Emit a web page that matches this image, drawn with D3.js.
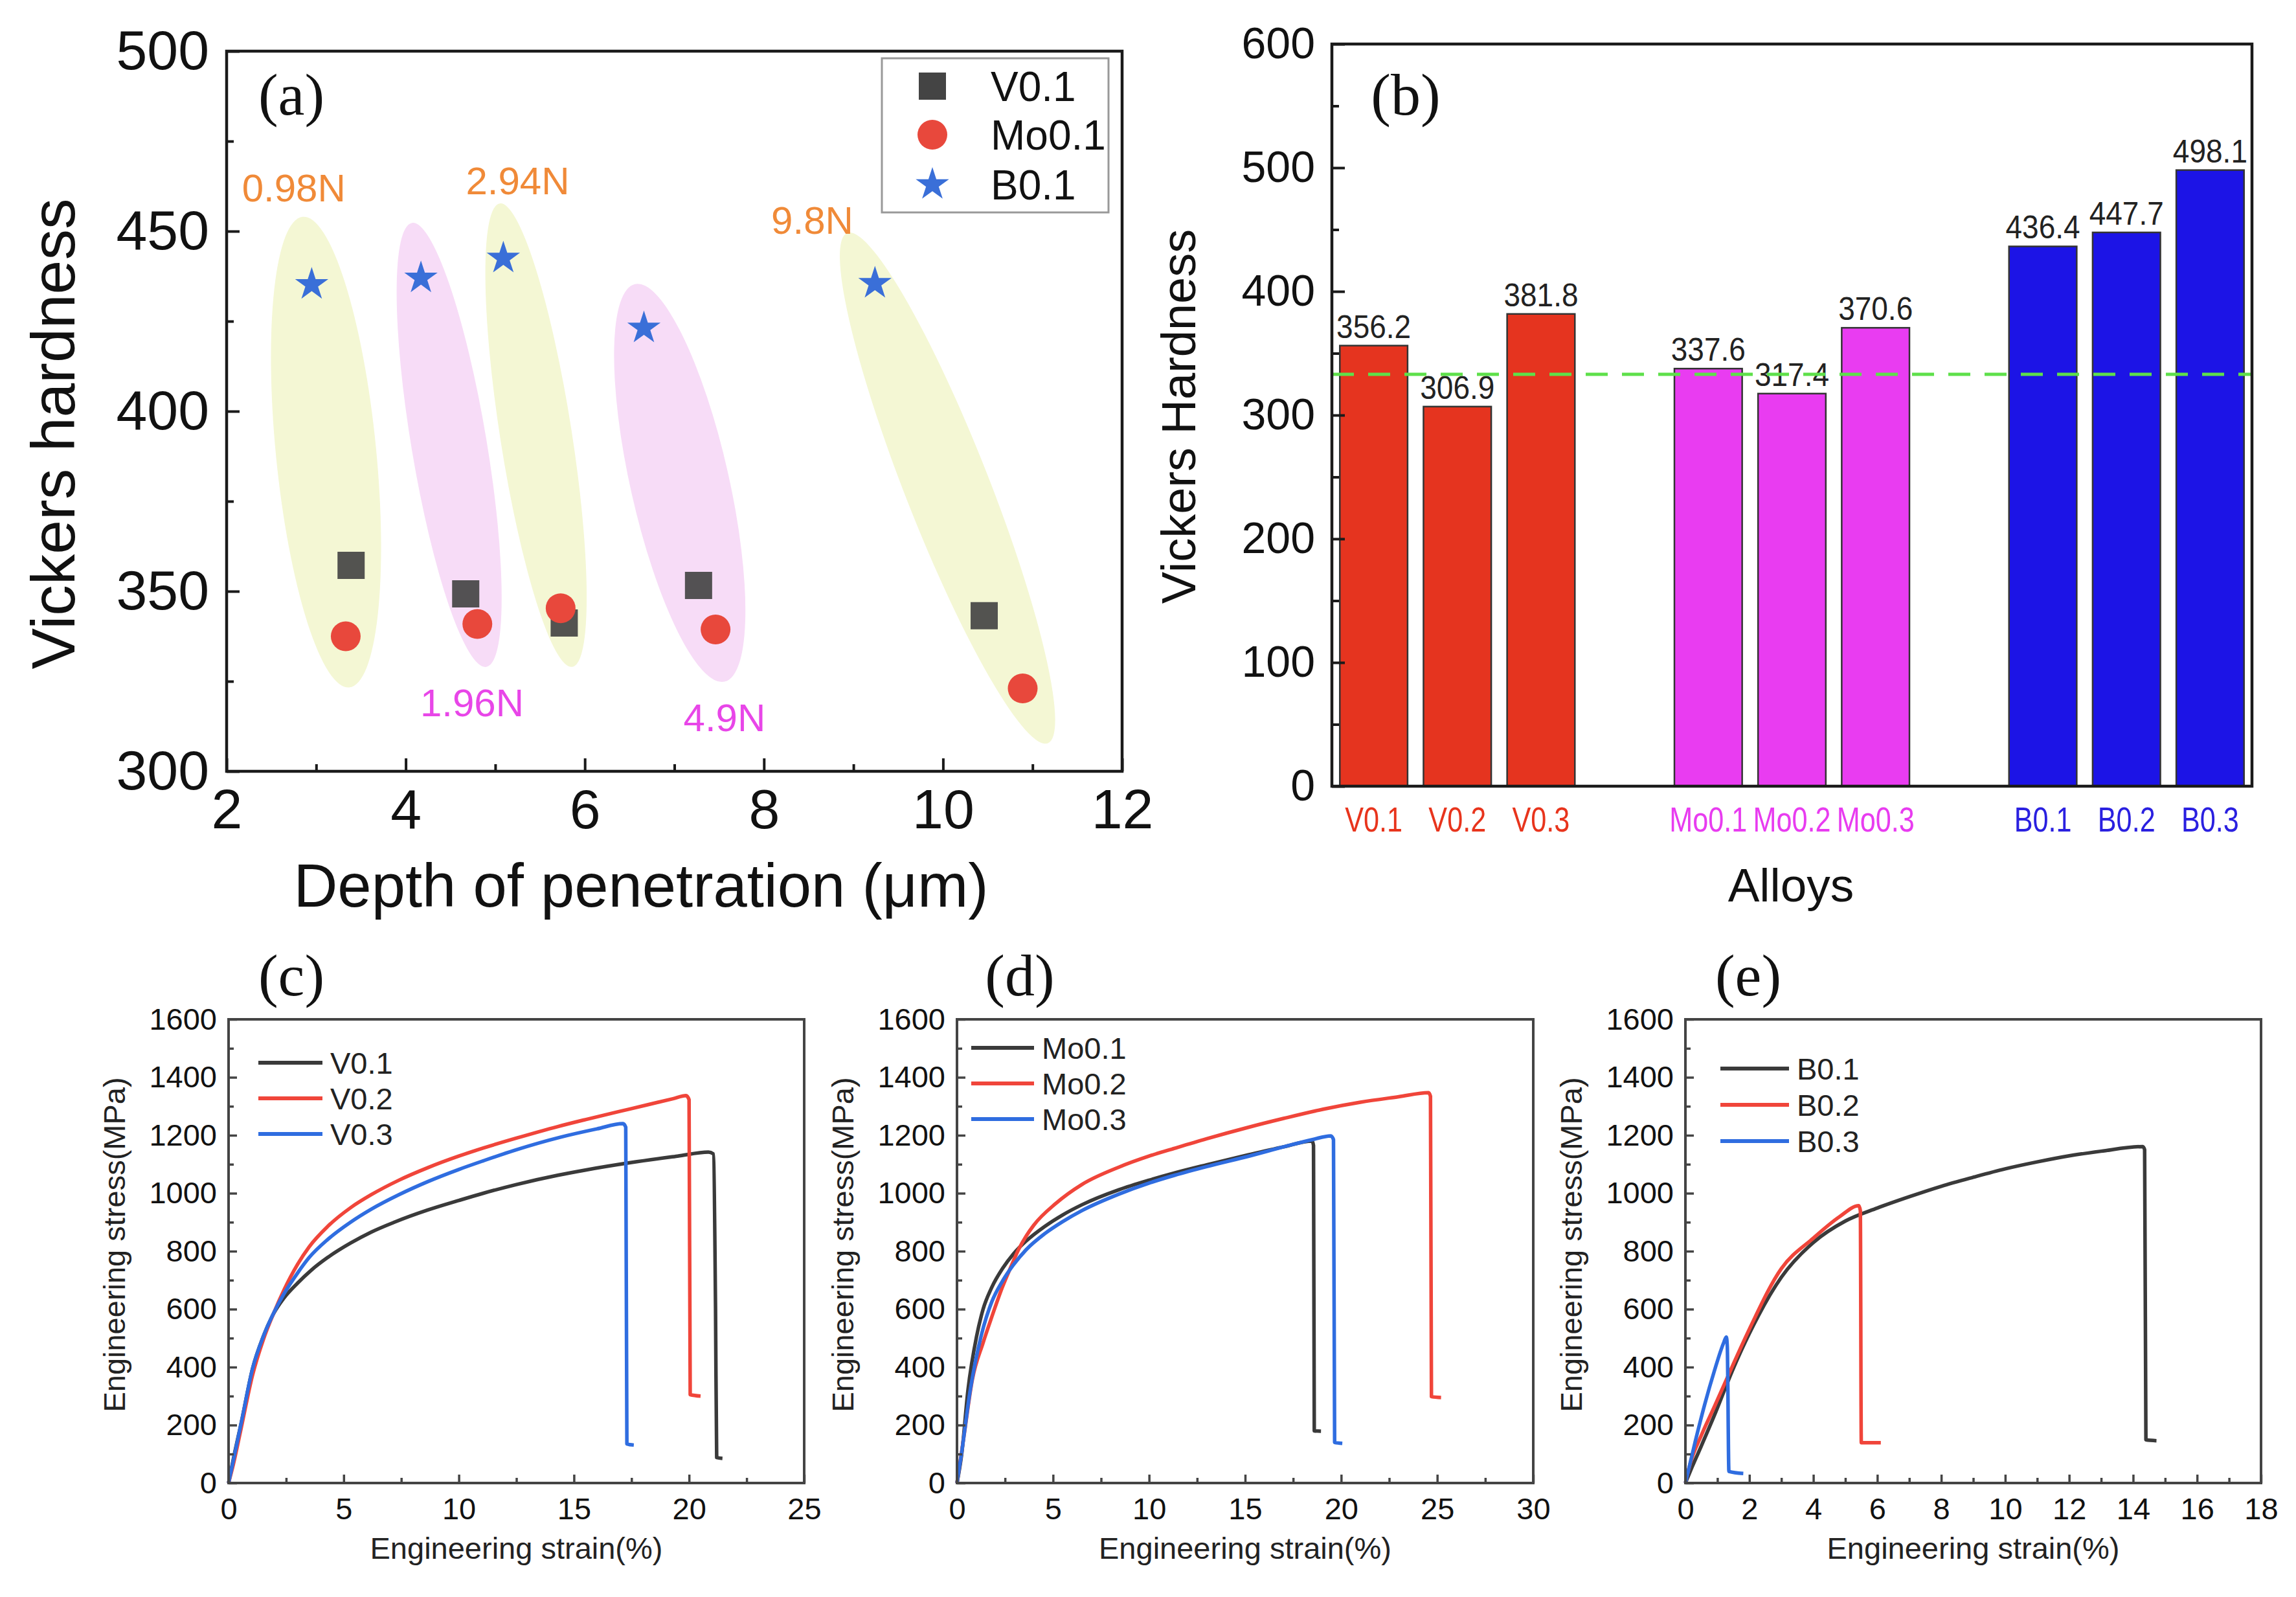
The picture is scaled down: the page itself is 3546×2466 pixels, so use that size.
<!DOCTYPE html>
<html>
<head>
<meta charset="utf-8">
<script src="https://cdn.jsdelivr.net/npm/d3@7"></script>
<style>
  body { margin: 0; background: #fff; }
  text { font-family: "Liberation Sans", Arial, sans-serif; }
</style>
</head>
<body>
<svg id="fig"></svg>
<script>
// ---------- panel (a): hardness vs depth of penetration ----------
const loadLabels = ["0.98N", "1.96N", "2.94N", "4.9N", "9.8N"];
const depthV  = [3.39, 4.67, 5.77, 7.27, 10.46];
const hardV   = [357.2, 349.3, 341.2, 351.6, 343.2];
const depthMo = [3.33, 4.80, 5.73, 7.46, 10.89];
const hardMo  = [337.5, 340.9, 345.3, 339.4, 323.0];
const depthB  = [2.95, 4.17, 5.09, 6.66, 9.24];
const hardB   = [435.2, 437.0, 442.5, 423.1, 435.5];
// group ellipses: ends of the long axis and half width (depth units)
const ellipseTop    = [[2.85, 454.0], [4.07, 452.3], [5.05, 457.7], [6.56, 435.3], [8.93, 449.5]];
const ellipseBottom = [[3.37, 323.3], [4.90, 329.0], [5.86, 329.0], [7.56, 324.9], [11.17, 307.8]];
const ellipseHalf   = [0.56, 0.42, 0.40, 0.55, 0.47];
const loadLabelAt   = [[2.75, 462], [4.74, 319], [5.25, 464], [7.56, 315], [8.54, 453]];

// ---------- panel (b): hardness per alloy ----------
const alloys   = ["V0.1", "V0.2", "V0.3", "Mo0.1", "Mo0.2", "Mo0.3", "B0.1", "B0.2", "B0.3"];
const alloyGrp = ["V", "V", "V", "Mo", "Mo", "Mo", "B", "B", "B"];
const hardness = [356.2, 306.9, 381.8, 337.6, 317.4, 370.6, 436.4, 447.7, 498.1];
const refHardness = 333;

// ---------- panels (c)-(e): engineering stress-strain ----------
const curvesV = {
  "V0.1": [[0,0],[0.2,80],[0.57,215],[1.04,394],[1.51,506],[1.98,588],[2.4,638],[3.0,690],[3.6,735],[4.3,778],[5.3,828],[6.2,866],[7.2,900],[8.65,942],[10,975],[11.07,1000],[12.5,1030],[14.3,1062],[15.5,1080],[17.5,1106],[19.5,1128],[20.84,1142],[21.05,1136],[21.15,600],[21.2,88],[21.45,85]],
  "V0.2": [[0,0],[0.2,62],[0.52,179],[1.04,372],[1.51,495],[1.98,590],[2.4,665],[3.0,755],[3.5,815],[4.3,885],[5.3,950],[6.2,995],[7.4,1045],[8.65,1088],[10,1128],[11.07,1156],[12.5,1190],[14.3,1230],[15.5,1254],[17.5,1292],[19.3,1326],[19.87,1337],[20.0,1323],[20.05,305],[20.5,300]],
  "V0.3": [[0,0],[0.2,75],[0.57,215],[1.04,394],[1.51,506],[1.98,590],[2.4,652],[3.0,725],[3.5,778],[4.3,840],[5.3,900],[6.2,945],[7.4,995],[8.65,1040],[10,1082],[11.07,1112],[12.5,1150],[14.4,1193],[16,1222],[17.13,1240],[17.25,1228],[17.3,135],[17.6,131]]
};
const curvesMo = {
  "Mo0.1": [[0,0],[0.24,97],[0.57,320],[1.02,506],[1.36,600],[1.81,675],[2.37,740],[2.93,790],[3.6,835],[4.56,885],[5.5,925],[6.5,960],[8.43,1012],[10,1045],[11.33,1070],[13,1098],[15.2,1133],[17,1160],[18.49,1180],[18.56,1165],[18.6,180],[18.95,179]],
  "Mo0.2": [[0,0],[0.35,156],[0.8,357],[1.36,484],[1.81,573],[2.37,677],[2.8,745],[3.2,805],[3.6,852],[4.0,890],[5.15,965],[6.5,1030],[8.43,1090],[10,1128],[11.33,1155],[13,1188],[15.2,1228],[17,1258],[19.07,1290],[21,1314],[23,1333],[24.55,1347],[24.65,1334],[24.7,298],[25.2,295]],
  "Mo0.3": [[0,0],[0.24,104],[0.69,320],[1.25,506],[1.81,625],[2.37,697],[2.93,752],[3.6,805],[4.56,860],[5.5,902],[6.5,940],[8.43,997],[10,1035],[11.33,1062],[13,1092],[15.2,1128],[17,1160],[18.5,1185],[19.46,1198],[19.6,1185],[19.66,140],[20.06,137]]
};
const curvesB = {
  "B0.1": [[0,0],[0.15,40],[0.45,116],[0.9,232],[1.5,396],[2.0,516],[3.0,710],[4.0,830],[5.0,904],[6.0,949],[7,988],[8.0,1024],[9,1055],[10.0,1084],[11,1108],[12.0,1129],[13,1145],[14.3,1161],[14.36,1150],[14.4,149],[14.73,146]],
  "B0.2": [[0,0],[0.15,67],[0.5,165],[0.9,262],[1.5,411],[2.0,531],[3.0,740],[4.0,845],[4.82,919],[5.42,957],[5.47,940],[5.5,139],[6.11,139]],
  "B0.3": [[0,0],[0.3,140],[0.6,270],[0.9,385],[1.2,485],[1.28,504],[1.31,470],[1.36,40],[1.81,33]]
};

const W = 3546, H = 2466;
const svg = d3.select("#fig").attr("width", W).attr("height", H);
svg.append("rect").attr("width", W).attr("height", H).attr("fill", "#fff");

const serif = '"Liberation Serif", "Times New Roman", serif';
const lineColors = ["#3a3a3a", "#f0453a", "#2f6de0"];

function addAxis(g, scale, orient, pos, major, minor, fmt, o) {
    const mk = orient === "bottom" ? d3.axisBottom : d3.axisLeft;
    const tr = orient === "bottom" ? `translate(0,${pos})` : `translate(${pos},0)`;
    if (minor) {
        const m = g.append("g").attr("transform", tr)
            .call(mk(scale).tickValues(minor).tickSize(-o.minorLen).tickFormat(""));
        m.select(".domain").remove();
        m.selectAll("line").attr("stroke", o.color).attr("stroke-width", o.tickW);
    }
    const ax = g.append("g").attr("transform", tr)
        .call(mk(scale).tickValues(major).tickSize(-o.majorLen).tickPadding(o.pad).tickFormat(fmt));
    ax.select(".domain").remove();
    ax.selectAll("line").attr("stroke", o.color).attr("stroke-width", o.tickW);
    ax.selectAll("text")
        .style("font-family", '"Liberation Sans", Arial, sans-serif')
        .style("font-size", o.font + "px")
        .attr("fill", "#111");
    return ax;
}

function frame(g, L, T, R, B, sw, col) {
    g.append("rect").attr("x", L).attr("y", T).attr("width", R - L).attr("height", B - T)
        .attr("fill", "none").attr("stroke", col).attr("stroke-width", sw);
}

function panelLabel(txt, x, y) {
    svg.append("text").attr("x", x).attr("y", y).attr("text-anchor", "middle")
        .style("font-family", serif).style("font-size", "92px").attr("fill", "#111").text(txt);
}

// ================= (a) =================
(function () {
    const L = 350, R = 1733, T = 79, B = 1191;
    const g = svg.append("g");
    const x = d3.scaleLinear().domain([2, 12]).range([L, R]);
    const y = d3.scaleLinear().domain([300, 500]).range([B, T]);
    const ux = x(3) - x(2);

    // ellipses
    ellipseTop.forEach((t, i) => {
        const b = ellipseBottom[i];
        const x1 = x(t[0]), y1 = y(t[1]), x2 = x(b[0]), y2 = y(b[1]);
        const cx = (x1 + x2) / 2, cy = (y1 + y2) / 2;
        const rx = Math.hypot(x2 - x1, y2 - y1) / 2;
        const ang = Math.atan2(y2 - y1, x2 - x1) * 180 / Math.PI;
        g.append("ellipse")
            .attr("transform", `translate(${cx},${cy}) rotate(${ang})`)
            .attr("rx", rx).attr("ry", ellipseHalf[i] * ux)
            .attr("fill", i % 2 === 0 ? "#f4f7d4" : "#f7dcf7");
    });

    // load labels
    loadLabels.forEach((lab, i) => {
        g.append("text").attr("x", x(loadLabelAt[i][0])).attr("y", y(loadLabelAt[i][1]))
            .attr("text-anchor", "middle").attr("dy", "0.35em")
            .style("font-size", "60px")
            .attr("fill", i % 2 === 0 ? "#f08a38" : "#e846e8").text(lab);
    });

    // markers
    const sq = d3.symbol().type(d3.symbolSquare).size(1764);
    const st = d3.symbol().type(d3.symbolStar).size(820);
    depthV.forEach((d, i) => g.append("path").attr("d", sq())
        .attr("transform", `translate(${x(d)},${y(hardV[i])})`).attr("fill", "#444").attr("opacity", 0.92));
    depthMo.forEach((d, i) => g.append("circle").attr("cx", x(d)).attr("cy", y(hardMo[i])).attr("r", 23)
        .attr("fill", "#e8483c"));
    depthB.forEach((d, i) => g.append("path").attr("d", st())
        .attr("transform", `translate(${x(d)},${y(hardB[i])})`).attr("fill", "#3a6fd8"));

    const o = { minorLen: 11, majorLen: 20, tickW: 4, color: "#1a1a1a", pad: 27, font: 86 };
    addAxis(g, x, "bottom", B, d3.range(2, 13, 2), d3.range(3, 12, 2), d3.format("d"), o);
    addAxis(g, y, "left", L, d3.range(300, 501, 50), d3.range(325, 500, 50), d3.format("d"), o);
    frame(g, L, T, R, B, 4.5, "#1a1a1a");

    // legend
    g.append("rect").attr("x", 1362).attr("y", 90).attr("width", 350).attr("height", 238)
        .attr("fill", "#fff").attr("stroke", "#999").attr("stroke-width", 3);
    const ly = [133, 208, 285];
    g.append("path").attr("d", sq()).attr("transform", `translate(1440,${ly[0]})`).attr("fill", "#444");
    g.append("circle").attr("cx", 1440).attr("cy", ly[1]).attr("r", 23).attr("fill", "#e8483c");
    g.append("path").attr("d", st()).attr("transform", `translate(1440,${ly[2]})`).attr("fill", "#3a6fd8");
    ["V0.1", "Mo0.1", "B0.1"].forEach((t, i) => g.append("text").attr("x", 1530).attr("y", ly[i])
        .attr("dy", "0.36em").style("font-size", "64px").attr("fill", "#111").text(t));

    g.append("text").attr("transform", "translate(115,670) rotate(-90)").attr("text-anchor", "middle")
        .style("font-size", "95px").attr("fill", "#111").text("Vickers hardness");
    g.append("text").attr("x", 990).attr("y", 1400).attr("text-anchor", "middle")
        .style("font-size", "94px").attr("fill", "#111").text("Depth of penetration (μm)");
    panelLabel("(a)", 450, 177);
})();

// ================= (b) =================
(function () {
    const L = 2057, R = 3478, T = 68, B = 1214;
    const g = svg.append("g");
    const groups = Array.from(new Set(alloyGrp));
    const slots = [];
    groups.forEach((gr, k) => {
        if (k > 0) slots.push("_gap" + k);
        alloys.forEach((a, i) => { if (alloyGrp[i] === gr) slots.push(a); });
    });
    const x = d3.scaleBand().domain(slots).range([L, R]).paddingInner(0.19).paddingOuter(0.095);
    const y = d3.scaleLinear().domain([0, 600]).range([B, T]);
    const fillOf = { V: "#e5341f", Mo: "#e93cf1", B: "#1c14e6" };
    const textOf = { V: "#e8341c", Mo: "#e83cf0", B: "#2a20e0" };

    g.selectAll(".bar").data(alloys).enter().append("rect")
        .attr("x", d => x(d)).attr("width", x.bandwidth())
        .attr("y", (d, i) => y(hardness[i])).attr("height", (d, i) => B - y(hardness[i]))
        .attr("fill", (d, i) => fillOf[alloyGrp[i]]).attr("stroke", "#333").attr("stroke-width", 2.5);

    g.selectAll(".val").data(alloys).enter().append("text")
        .attr("transform", (d, i) => `translate(${x(d) + x.bandwidth() / 2},${y(hardness[i]) - 12}) scale(0.92,1)`)
        .attr("text-anchor", "middle").style("font-size", "50px").attr("fill", "#222")
        .text((d, i) => hardness[i].toFixed(1));

    g.append("line").attr("x1", L).attr("x2", R).attr("y1", y(refHardness)).attr("y2", y(refHardness))
        .attr("stroke", "#5ee04a").attr("stroke-width", 5).attr("stroke-dasharray", "34,22");

    const o = { minorLen: 11, majorLen: 20, tickW: 4, color: "#1a1a1a", pad: 26, font: 68 };
    addAxis(g, y, "left", L, d3.range(0, 601, 100), d3.range(50, 600, 100), d3.format("d"), o);
    const xa = addAxis(g, x, "bottom", B, alloys, null, d => d,
        { majorLen: 0, tickW: 0, color: "none", pad: 32, font: 54 });
    xa.selectAll("text").attr("fill", d => textOf[alloyGrp[alloys.indexOf(d)]])
        .attr("transform", "scale(0.8,1)");
    frame(g, L, T, R, B, 4.5, "#1a1a1a");

    g.append("text").attr("transform", "translate(1846,643) rotate(-90)").attr("text-anchor", "middle")
        .style("font-size", "74px").attr("fill", "#111").text("Vickers Hardness");
    g.append("text").attr("x", 2766).attr("y", 1392).attr("text-anchor", "middle")
        .style("font-size", "73px").attr("fill", "#111").text("Alloys");
    panelLabel("(b)", 2171, 177);
})();

// ================= (c)-(e) =================
function stressPanel(curves, L, R, xMax, xMajor, xMinor, leg, label) {
    const T = 1574, B = 2290;
    const g = svg.append("g");
    const x = d3.scaleLinear().domain([0, xMax]).range([L, R]);
    const y = d3.scaleLinear().domain([0, 1600]).range([B, T]);
    const line = d3.line().x(d => x(d[0])).y(d => y(d[1])).curve(d3.curveMonotoneX);
    const names = Object.keys(curves);

    names.forEach((n, i) => g.append("path").attr("d", line(curves[n]))
        .attr("fill", "none").attr("stroke", lineColors[i]).attr("stroke-width", 5.5)
        .attr("stroke-linejoin", "round"));

    const o = { minorLen: 8, majorLen: 13, tickW: 3.5, color: "#444", pad: 23, font: 47 };
    addAxis(g, x, "bottom", B, xMajor, xMinor, d3.format("d"), o);
    addAxis(g, y, "left", L, d3.range(0, 1601, 200), d3.range(100, 1600, 200), d3.format("d"), { ...o, pad: 18 });
    frame(g, L, T, R, B, 4, "#444");

    names.forEach((n, i) => {
        const yy = T + leg.y0 + i * leg.dy;
        g.append("line").attr("x1", L + leg.x0).attr("x2", L + leg.x1).attr("y1", yy).attr("y2", yy)
            .attr("stroke", lineColors[i]).attr("stroke-width", 6);
        g.append("text").attr("x", L + leg.x1 + 12).attr("y", yy).attr("dy", "0.36em")
            .style("font-size", "47px").attr("fill", "#222").text(n);
    });

    g.append("text").attr("transform", `translate(${L - 160},${(T + B) / 2 - 10}) rotate(-90)`)
        .attr("text-anchor", "middle").style("font-size", "47px").attr("fill", "#222")
        .text("Engineering stress(MPa)");
    g.append("text").attr("x", (L + R) / 2).attr("y", B + 117).attr("text-anchor", "middle")
        .style("font-size", "47px").attr("fill", "#222").text("Engineering strain(%)");
    panelLabel(label, L + 97, 1537);
}

stressPanel(curvesV, 353, 1242, 25, d3.range(0, 26, 5), d3.range(2.5, 25, 5),
    { x0: 46, x1: 145, y0: 67, dy: 55 }, "(c)");
stressPanel(curvesMo, 1478, 2368, 30, d3.range(0, 31, 5), d3.range(2.5, 30, 5),
    { x0: 22, x1: 119, y0: 44, dy: 55 }, "(d)");
stressPanel(curvesB, 2603, 3492, 18, d3.range(0, 19, 2), d3.range(1, 18, 2),
    { x0: 54, x1: 160, y0: 76, dy: 56 }, "(e)");
</script>
</body>
</html>
